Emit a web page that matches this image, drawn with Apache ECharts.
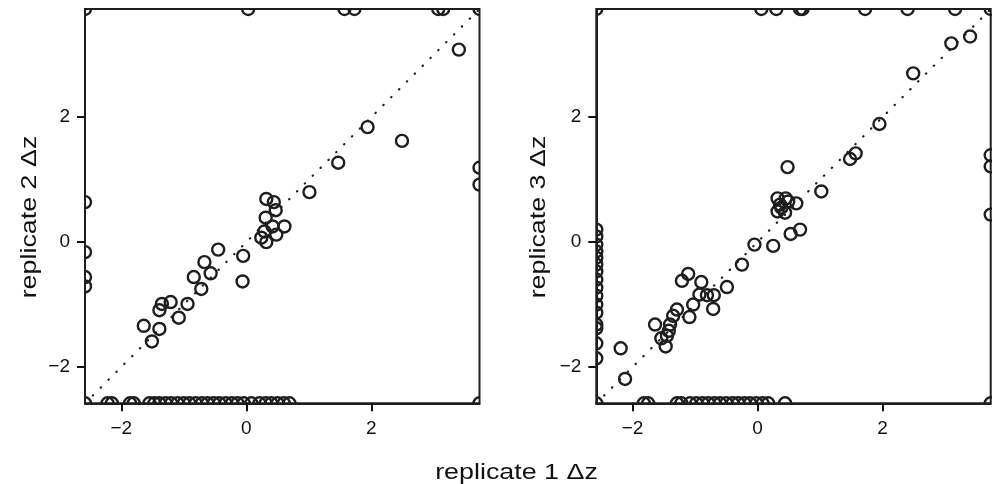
<!DOCTYPE html>
<html>
<head>
<meta charset="utf-8">
<script src="https://cdn.jsdelivr.net/npm/echarts@6/dist/echarts.min.js"></script>
<style>
html,body{margin:0;padding:0;background:#fff;}
#chart{width:998px;height:484px;}
</style>
</head>
<body>
<div id="chart"></div>
<script>
// ---- data ----
const axisMin = -2.58;
const axisMax = 3.73;
const tickValues = [-2, 0, 2];
const xTitle = 'replicate 1 \u0394z';
const yTitleA = 'replicate 2 \u0394z';
const yTitleB = 'replicate 3 \u0394z';

// replicate 1 vs replicate 2 : [rep1, rep2]
const rep1VsRep2 = [
  [3.40,3.08],[1.94,1.84],[2.49,1.62],[1.47,1.27],[1.01,0.80],
  [0.32,0.69],[0.44,0.64],[0.47,0.51],[0.31,0.39],[0.61,0.25],[0.42,0.25],
  [0.29,0.17],[0.48,0.12],[0.24,0.07],[0.32,0.00],
  [-0.45,-0.12],[-0.05,-0.22],[-0.06,-0.63],[-0.67,-0.32],[-0.57,-0.50],
  [-0.84,-0.56],[-0.72,-0.75],[-0.94,-0.99],[-1.21,-0.96],[-1.35,-0.99],
  [-1.39,-1.09],[-1.08,-1.21],[-1.64,-1.34],[-1.39,-1.39],[-1.51,-1.59],
  // clipped at top
  [-2.58,3.73],[0.03,3.73],[1.57,3.73],[1.73,3.73],[3.07,3.73],[3.15,3.73],[3.73,3.73],
  // clipped at right
  [3.73,1.19],[3.73,0.92],[3.73,-2.58],
  // clipped at left
  [-2.58,0.64],[-2.58,-0.16],[-2.58,-0.56],[-2.58,-0.71],
  // clipped at bottom
  [-2.58,-2.58],[-2.22,-2.58],[-2.15,-2.58],[-1.86,-2.58],[-1.80,-2.58],[-1.55,-2.58],
  [-1.47,-2.58],[-1.39,-2.58],[-1.29,-2.58],[-1.20,-2.58],[-1.10,-2.58],[-1.00,-2.58],
  [-0.91,-2.58],[-0.81,-2.58],[-0.71,-2.58],[-0.62,-2.58],[-0.52,-2.58],[-0.43,-2.58],
  [-0.33,-2.58],[-0.23,-2.58],[-0.14,-2.58],[-0.04,-2.58],[0.08,-2.58],[0.21,-2.58],
  [0.31,-2.58],[0.40,-2.58],[0.50,-2.58],[0.60,-2.58],[0.69,-2.58]
];

// replicate 1 vs replicate 3 : [rep1, rep3]
const rep1VsRep3 = [
  [3.40,3.29],[3.10,3.18],[2.49,2.70],[1.95,1.89],[1.57,1.42],[1.48,1.33],
  [0.48,1.20],[1.02,0.81],
  [0.32,0.70],[0.45,0.70],[0.36,0.60],[0.49,0.65],[0.62,0.62],[0.32,0.49],
  [0.44,0.47],[0.38,0.55],
  [0.68,0.20],[0.53,0.13],[0.25,-0.06],[-0.05,-0.04],
  [-0.25,-0.36],[-0.49,-0.72],[-0.70,-0.85],[-0.71,-1.07],[-0.81,-0.85],
  [-0.90,-0.64],[-0.93,-0.84],[-1.11,-0.51],[-1.21,-0.62],[-1.03,-1.00],
  [-1.09,-1.20],[-1.29,-1.08],[-1.35,-1.18],[-1.40,-1.32],[-1.42,-1.42],
  [-1.64,-1.32],[-1.54,-1.54],[-1.47,-1.67],[-1.45,-1.50],[-2.19,-1.70],[-2.12,-2.19],
  // clipped at top
  [-2.58,3.73],[0.06,3.73],[0.30,3.73],[0.68,3.73],[0.72,3.73],[1.72,3.73],
  [2.40,3.73],[3.16,3.73],[3.73,3.73],
  // clipped at right
  [3.73,1.39],[3.73,1.21],[3.73,0.44],[3.73,-2.58],
  // clipped at left
  [-2.58,0.20],[-2.58,0.09],[-2.58,-0.04],[-2.58,-0.15],[-2.58,-0.25],[-2.58,-0.36],
  [-2.58,-0.47],[-2.58,-0.60],[-2.58,-0.73],[-2.58,-0.86],[-2.58,-1.00],[-2.58,-1.13],
  [-2.58,-1.32],[-2.58,-1.38],[-2.58,-1.62],[-2.58,-1.86],[-2.58,-2.58],
  // clipped at bottom
  [-1.82,-2.58],[-1.75,-2.58],[-1.29,-2.58],[-1.22,-2.58],[-1.08,-2.58],[-0.98,-2.58],
  [-0.88,-2.58],[-0.79,-2.58],[-0.69,-2.58],[-0.60,-2.58],[-0.50,-2.58],[-0.40,-2.58],
  [-0.31,-2.58],[-0.21,-2.58],[-0.12,-2.58],[-0.02,-2.58],[0.08,-2.58],[0.17,-2.58],
  [0.44,-2.58]
];

// identity line
const identityLine = [[axisMin, axisMin], [axisMax, axisMax]];

// ---- chart ----
const INK = '#1e1e1e';
const FONT = 'Liberation Sans, Arial, sans-serif';
const minusFmt = v => String(v).replace('-', '\u2212');

function axisCommon(idx, margin) {
  return {
    gridIndex: idx, type: 'value', min: axisMin, max: axisMax,
    splitLine: {show: false},
    axisLine: {show: true, onZero: false, lineStyle: {color: INK, width: 2}},
    axisTick: {show: true, length: 8, inside: false, customValues: tickValues,
      lineStyle: {color: '#111', width: 2}},
    axisLabel: {customValues: tickValues, formatter: minusFmt, fontSize: 19,
      color: '#111', fontFamily: FONT, margin: margin}
  };
}
function circles(idx, data) {
  return {
    type: 'custom', xAxisIndex: idx, yAxisIndex: idx, clip: true, z: 3,
    data: data,
    renderItem: function (params, api) {
      const p = api.coord([api.value(0), api.value(1)]);
      return {type: 'circle', shape: {cx: p[0], cy: p[1], r: 6},
        style: {fill: 'none', stroke: INK, lineWidth: 2.4}};
    }
  };
}
function diag(idx) {
  return {
    type: 'line', xAxisIndex: idx, yAxisIndex: idx, data: identityLine,
    showSymbol: false, silent: true, z: 2,
    lineStyle: {color: INK, width: 2.2, type: [0.4, 10.7], cap: 'round'}
  };
}

const chart = echarts.init(document.getElementById('chart'), null, {renderer: 'canvas'});
chart.setOption({
  animation: false,
  backgroundColor: '#fff',
  grid: [
    {left: 85, top: 9, width: 394.5, height: 394.3, show: true, borderColor: INK, borderWidth: 2, backgroundColor: 'transparent'},
    {left: 596.3, top: 9, width: 394.4, height: 394.3, show: true, borderColor: INK, borderWidth: 2, backgroundColor: 'transparent'}
  ],
  xAxis: [axisCommon(0, 16), axisCommon(1, 16)],
  yAxis: [axisCommon(0, 15), axisCommon(1, 15)],
  series: [diag(0), circles(0, rep1VsRep2), diag(1), circles(1, rep1VsRep3)],
  graphic: [
    {type: 'text', x: 516.5, y: 472.5, scaleX: 1.22,
      style: {text: xTitle, fontSize: 22, fontFamily: FONT, fill: '#111', align: 'center', verticalAlign: 'middle'}},
    {type: 'text', x: 29.5, y: 217, rotation: Math.PI / 2, scaleX: 1.22,
      style: {text: yTitleA, fontSize: 22, fontFamily: FONT, fill: '#111', align: 'center', verticalAlign: 'middle'}},
    {type: 'text', x: 539, y: 217, rotation: Math.PI / 2, scaleX: 1.22,
      style: {text: yTitleB, fontSize: 22, fontFamily: FONT, fill: '#111', align: 'center', verticalAlign: 'middle'}}
  ]
});
</script>
</body>
</html>
